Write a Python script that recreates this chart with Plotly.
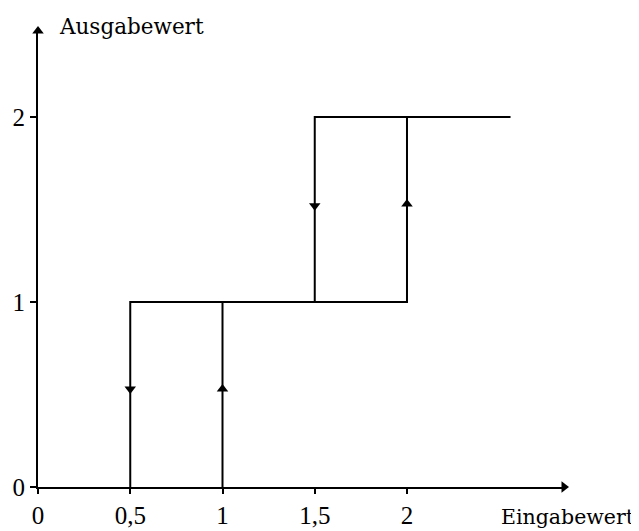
import plotly.graph_objects as go

# Data: hysteresis step characteristic
rise_x = [1, 1, 2, 2, 2.56]
rise_y = [0, 1, 1, 2, 2]
fall_x = [2.56, 1.5, 1.5, 0.5, 0.5]
fall_y = [2, 2, 1, 1, 0]

down_arrow_x = [0.5, 1.5]
down_arrow_y = [0.53, 1.52]
up_arrow_x = [1, 2]
up_arrow_y = [0.53, 1.53]

x_tickvals = [0, 0.5, 1, 1.5, 2]
x_ticktext = ["0", "0,5", "1", "1,5", "2"]
y_tickvals = [0, 1, 2]
y_ticktext = ["0", "1", "2"]

x_label = "Eingabewert"
y_label = "Ausgabewert"

OFF = 8  # page body margin
W, H = 639 - OFF, 531 - OFF
X_MAX = 2.851
Y_MAX = 2.465


def px(x):
    return (x - OFF) / W


def py(y):
    return (H - (y - OFF)) / H


fig = go.Figure()
line_style = dict(color="black", width=2)
fig.add_trace(go.Scatter(x=rise_x, y=rise_y, mode="lines", line=line_style,
                         cliponaxis=False, hoverinfo="skip"))
fig.add_trace(go.Scatter(x=fall_x, y=fall_y, mode="lines", line=line_style,
                         cliponaxis=False, hoverinfo="skip"))
fig.add_trace(go.Scatter(x=down_arrow_x, y=down_arrow_y, mode="markers",
                         marker=dict(symbol="triangle-down", size=10, color="black"),
                         cliponaxis=False, hoverinfo="skip"))
fig.add_trace(go.Scatter(x=up_arrow_x, y=up_arrow_y, mode="markers",
                         marker=dict(symbol="triangle-up", size=10, color="black"),
                         cliponaxis=False, hoverinfo="skip"))
# axis arrowheads
fig.add_trace(go.Scatter(x=[X_MAX], y=[0], mode="markers",
                         marker=dict(symbol="triangle-right", size=10, color="black"),
                         cliponaxis=False, hoverinfo="skip"))
fig.add_trace(go.Scatter(x=[0], y=[Y_MAX], mode="markers",
                         marker=dict(symbol="triangle-up", size=10, color="black"),
                         cliponaxis=False, hoverinfo="skip"))

tickfont = dict(family="Liberation Serif", size=25, color="black")
fig.update_layout(
    width=W, height=H,
    margin=dict(l=0, r=0, t=0, b=0),
    paper_bgcolor="white", plot_bgcolor="white",
    showlegend=False,
    xaxis=dict(domain=[px(38), px(564)], range=[0, X_MAX], automargin=False,
               showgrid=False, zeroline=False,
               showline=True, linecolor="black", linewidth=2,
               ticks="outside", ticklen=5, tickwidth=1.5, tickcolor="black",
               tickvals=x_tickvals, ticktext=x_ticktext, tickfont=tickfont,
               ticklabelstandoff=0),
    yaxis=dict(domain=[py(487), py(31)], range=[0, Y_MAX], automargin=False,
               showgrid=False, zeroline=False,
               showline=True, linecolor="black", linewidth=2,
               ticks="outside", ticklen=6, tickwidth=1.5, tickcolor="black",
               tickvals=y_tickvals, ticktext=y_ticktext, tickfont=tickfont,
               ticklabelstandoff=0),
    annotations=[
        dict(text=y_label, xref="paper", yref="paper", x=px(57), y=py(26),
             xanchor="left", yanchor="middle", showarrow=False,
             font=dict(family="DejaVu Serif", size=21.5, color="black")),
        dict(text=x_label, xref="paper", yref="paper", x=px(637), y=py(517),
             xanchor="right", yanchor="middle", showarrow=False,
             font=dict(family="DejaVu Serif", size=20.5, color="black")),
    ],
)

fig.write_html("out.html")
